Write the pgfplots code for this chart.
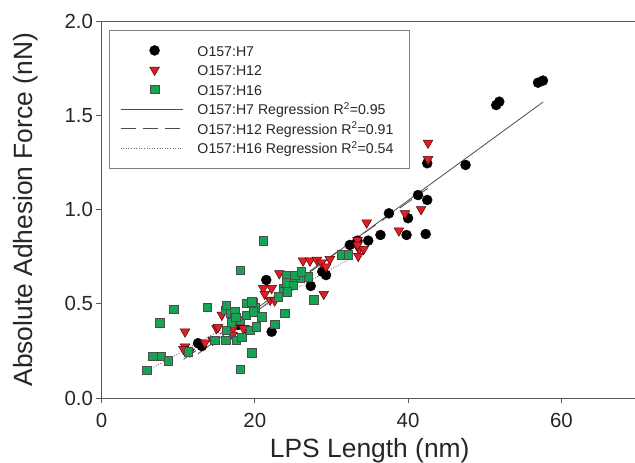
\documentclass[border=0pt]{standalone}
\usepackage{pgfplots}
\pgfplotsset{compat=1.18}
\usepackage{fontspec}
\setmainfont{Liberation Sans}
\definecolor{myred}{RGB}{228,28,36}
\definecolor{mygreen}{RGB}{22,163,84}
\pgfplotsset{
  legline/.style={legend image code/.code={\draw[##1] (0bp,0bp) -- (62bp,0bp);}},
  legmark/.style={legend image code/.code={\draw[mark repeat=2,mark phase=2,##1] plot coordinates {(0bp,0bp) (34bp,0bp) (62bp,0bp)};}},
}
\begin{document}
\begin{tikzpicture}
\begin{axis}[
  scale only axis, width=536.5bp, height=376.5bp,
  xmin=0, xmax=70, ymin=0, ymax=2,
  axis line style={black!65, line width=0.8bp},
  tick style={black!65, line width=0.8bp},
  tick align=outside, tick pos=left, major tick length=5bp,
  xtick={0,20,40,60}, ytick={0,0.5,1,1.5,2},
  /pgf/number format/assume math mode=true,
  ticklabel style={font=\fontsize{20.5}{24}\selectfont, text=black!85},
  xticklabel style={yshift=-7bp},
  yticklabel style={/pgf/number format/.cd, fixed, fixed zerofill, precision=1},
  xlabel={LPS Length (nm)},
  ylabel={Absolute Adhesion Force (nN)},
  label style={font=\fontsize{26.5}{30}\selectfont, text=black!85},
  xlabel style={at={(axis description cs:0.5,0)}, anchor=base, yshift=-59bp},
  ylabel style={at={(axis description cs:-0.1284,0.5)}, anchor=base},
  legend cell align=left,
  legend style={at={(axis description cs:0,1)}, anchor=north west,
    xshift=7.5bp, yshift=-8.5bp, draw=black!50,
    font=\fontsize{14.2}{17}\selectfont, text=black!85,
    inner xsep=11bp, inner ysep=10.5bp, row sep=0bp,
    nodes={inner ysep=2.5bp, inner xsep=5bp, text height=13bp, text depth=1.5bp},
    /tikz/every odd column/.append style={column sep=9.5bp}},
]
\addplot[only marks, mark=*, mark size=5bp, mark options={fill=black, draw=black, line width=0.4bp}, legmark] coordinates {
(56.95,1.675) (57.6,1.686) (51.5,1.556) (51.9,1.574) (47.5,1.238)
(42.5,1.247) (41.3,1.078) (42.5,1.052) (37.5,0.981) (40.0,0.955)
(36.4,0.866) (39.8,0.866) (42.3,0.871) (34.8,0.836) (33.4,0.836)
(32.4,0.813) (28.8,0.671) (29.3,0.653) (27.3,0.595) (21.5,0.627)
(22.2,0.352) (17.2,0.405) (17.8,0.388) (12.6,0.291) (13.1,0.276)
};
\addlegendentry{O157:H7}
\addplot[only marks, mark=triangle*, mark size=5.6bp, mark options={rotate=180, fill=myred, draw=black!70!myred, line width=0.5bp}, legmark] coordinates {
(42.6,1.355) (42.6,1.268) (39.6,0.981) (41.7,1.002) (34.6,0.931)
(38.8,0.889) (33.4,0.839) (33.6,0.790) (34.2,0.790) (33.5,0.754)
(33.4,0.813) (26.3,0.729) (27.2,0.729) (28.1,0.733) (28.7,0.719)
(29.8,0.737) (29.3,0.697) (29.0,0.552) (21.1,0.583) (22.2,0.583)
(23.2,0.662) (21.3,0.552) (22.0,0.521) (22.6,0.517) (15.7,0.441)
(15.0,0.370) (17.2,0.370) (18.7,0.370) (10.9,0.352) (10.9,0.273)
(11.5,0.246) (14.5,0.308) (13.5,0.294) (15.2,0.376) (10.7,0.259)
(18.5,0.370) (17.1,0.335)
};
\addlegendentry{O157:H12}
\addplot[only marks, mark=square*, mark size=4.2bp, mark options={fill=mygreen, draw=black!70, line width=0.5bp}, legmark] coordinates {
(21.1,0.836) (18.1,0.680) (9.45,0.471) (13.8,0.482) (7.6,0.400)
(5.9,0.149) (6.7,0.223) (7.8,0.223) (8.7,0.198) (18.1,0.152)
(19.6,0.241) (23.9,0.450) (22.6,0.393) (11.3,0.246) (14.8,0.308)
(16.2,0.308) (17.6,0.308) (18.3,0.322) (19.4,0.361) (16.2,0.467)
(16.8,0.450) (19.8,0.506) (20.0,0.482) (25.9,0.636) (27.0,0.644)
(24.8,0.627) (24.1,0.653) (23.7,0.583) (24.1,0.612) (27.7,0.521)
(31.3,0.760) (32.2,0.760) (16.3,0.494) (17.4,0.458) (18.1,0.414)
(18.9,0.441) (20.2,0.379) (19.8,0.458) (20.9,0.432) (18.9,0.503)
(19.6,0.512) (23.7,0.565) (25.0,0.600) (23.1,0.538) (25.2,0.653)
(26.1,0.671) (24.2,0.565) (16.9,0.400) (17.5,0.430) (16.3,0.360)
};
\addlegendentry{O157:H16}
\addplot[black!70, line width=0.8bp, legline] coordinates {(12.6,0.235) (57.6,1.572)};
\addlegendentry{O157:H7 Regression R\textsuperscript{2}=0.95}
\addplot[black!70, line width=0.8bp, dash pattern=on 15bp off 7bp, legline] coordinates {(10.7,0.205) (42.6,1.114)};
\addlegendentry{O157:H12 Regression R\textsuperscript{2}=0.91}
\addplot[black!55, line width=0.8bp, dash pattern=on 1bp off 1.6bp, legline] coordinates {(5.9,0.143) (32.2,0.735)};
\addlegendentry{O157:H16 Regression R\textsuperscript{2}=0.54}
\end{axis}
\pgfresetboundingbox
\path (-101.5bp,-65bp) rectangle (533.5bp,398bp);
\end{tikzpicture}
\end{document}
